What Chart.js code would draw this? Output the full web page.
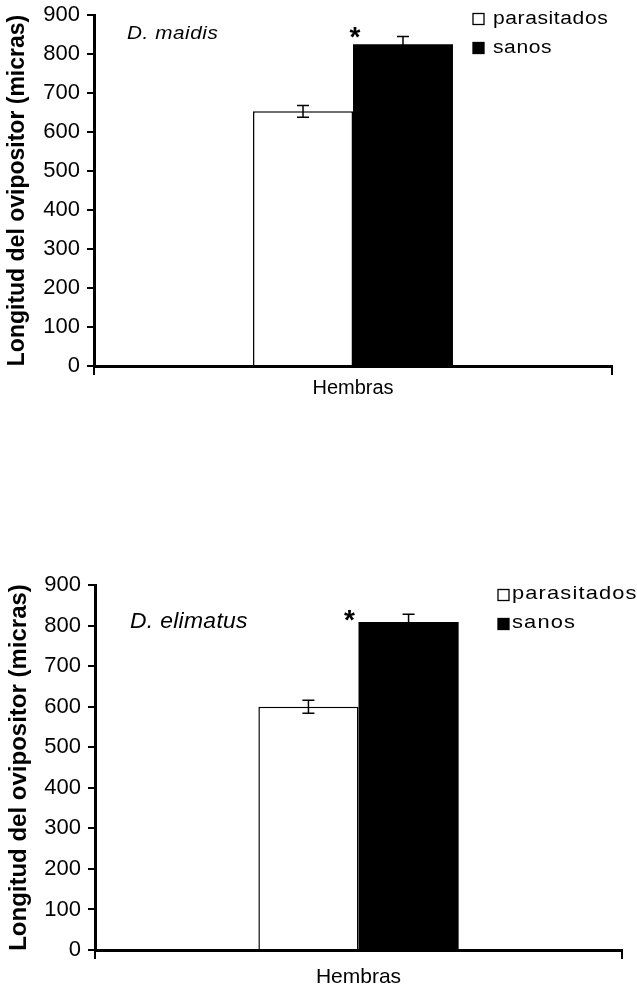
<!DOCTYPE html>
<html><head><meta charset="utf-8">
<script src="https://cdn.jsdelivr.net/npm/chart.js@4.4.1/dist/chart.umd.min.js"></script>
<style>
html,body{margin:0;padding:0;background:#fff;}
#wrap{position:relative;width:637px;height:987px;background:#fff;overflow:hidden;}
#c1{position:absolute;left:0;top:-10px;}
#c2{position:absolute;left:0;top:540px;}
</style></head><body>
<div id="wrap"><canvas id="c1" width="637" height="410"></canvas><canvas id="c2" width="637" height="447"></canvas></div>
<script>
// ---- data ----
const categories = ['Hembras'];
const seriesLabels = ['parasitados', 'sanos'];
const maidisParasitados = [653];
const maidisSanos = [825];
const maidisParasitadosErr = [15];
const maidisSanosErr = [20];
const elimatusParasitados = [600];
const elimatusSanos = [809];
const elimatusParasitadosErr = [16];
const elimatusSanosErr = [19];
const yTicks = [0, 100, 200, 300, 400, 500, 600, 700, 800, 900];
const yTitle = 'Longitud del ovipositor (micras)';
const speciesTop = 'D. maidis';
const speciesBottom = 'D. elimatus';
const signifMark = '*';

const FONT = '"Liberation Sans", Arial, Helvetica, sans-serif';

function stretchedText(ctx, text, x, y, sx, spacing) {
  ctx.save();
  try { ctx.letterSpacing = spacing + 'px'; } catch (e) {}
  ctx.translate(x, y);
  ctx.scale(sx, 1);
  ctx.fillText(text, 0, 0);
  ctx.restore();
}

const extras = {
  id: 'extras',
  afterDatasetsDraw(chart, args, opts) {
    const ctx = chart.ctx;
    const ys = chart.scales.y;
    const ca = chart.chartArea;
    ctx.save();
    // error bars
    chart.data.datasets.forEach((ds, i) => {
      const meta = chart.getDatasetMeta(i);
      meta.data.forEach((bar, j) => {
        const v = ds.data[j], e = ds.errors[j];
        const yTop = ys.getPixelForValue(v + e);
        const yBot = ys.getPixelForValue(v - e);
        ctx.strokeStyle = '#000';
        ctx.lineWidth = 1.5;
        ctx.beginPath();
        ctx.moveTo(bar.x, yTop); ctx.lineTo(bar.x, yBot);
        ctx.moveTo(bar.x - 6, yTop); ctx.lineTo(bar.x + 6, yTop);
        ctx.moveTo(bar.x - 6, yBot); ctx.lineTo(bar.x + 6, yBot);
        ctx.stroke();
      });
    });
    // significance star, relative to the "sanos" bar
    const sb = chart.getDatasetMeta(1).data[0];
    const sbLeft = sb.x - sb.width / 2;
    ctx.fillStyle = '#000';
    ctx.font = 'bold ' + opts.starSize + 'px ' + FONT;
    ctx.textAlign = 'center';
    ctx.textBaseline = 'alphabetic';
    ctx.fillText(signifMark, sbLeft + opts.starDx, sb.y + opts.starDy + opts.starSize * 0.45);
    // species label
    ctx.font = 'italic ' + opts.speciesSize + 'px ' + FONT;
    ctx.textAlign = 'left';
    ctx.textBaseline = 'middle';
    stretchedText(ctx, opts.species, ca.left + opts.speciesDx, ca.top + opts.speciesDy, opts.speciesScale, opts.speciesSpacing);
    // legend
    ctx.font = opts.legSize + 'px ' + FONT;
    chart.data.datasets.forEach((ds, i) => {
      const cy = ca.top + opts.legDy + i * opts.legGap;
      const sx = ca.left + opts.legDx;
      const sq = opts.legSq;
      ctx.fillStyle = ds.backgroundColor;
      ctx.fillRect(sx, cy - sq / 2 + opts.sqDy, sq, sq);
      ctx.strokeStyle = '#000';
      ctx.lineWidth = 1.3;
      ctx.strokeRect(sx, cy - sq / 2 + opts.sqDy, sq, sq);
      ctx.fillStyle = '#000';
      stretchedText(ctx, ds.label, sx + sq + opts.legTextGap, cy, opts.legScale, opts.legSpacing);
    });
    ctx.restore();
  }
};

function makeChart(id, parasit, sanos, pErr, sErr, cfg) {
  return new Chart(document.getElementById(id), {
    type: 'bar',
    data: {
      labels: categories,
      datasets: [
        { label: seriesLabels[0], data: parasit, errors: pErr, backgroundColor: '#ffffff',
          borderColor: '#000', borderWidth: 1.5, borderSkipped: 'bottom' },
        { label: seriesLabels[1], data: sanos, errors: sErr, backgroundColor: '#000000',
          borderColor: '#000', borderWidth: 0 }
      ]
    },
    options: {
      responsive: false,
      animation: false,
      devicePixelRatio: 1,
      layout: { padding: cfg.padding },
      datasets: { bar: { categoryPercentage: cfg.catPct, barPercentage: 1 } },
      plugins: {
        legend: { display: false },
        tooltip: { enabled: false },
        extras: cfg.extras
      },
      scales: {
        x: {
          offset: true,
          border: { display: true, color: '#000', width: 3 },
          grid: { offset: true, drawOnChartArea: false, drawTicks: true, tickLength: 9, color: '#000', lineWidth: 2 },
          ticks: { color: '#000', font: { family: FONT, size: cfg.xFont }, padding: cfg.xPad },
          afterFit: s => { s.height = cfg.xHeight; }
        },
        y: {
          min: 0, max: 900,
          afterBuildTicks: s => { s.ticks = yTicks.map(v => ({ value: v })); },
          border: { display: true, color: '#000', width: 3 },
          grid: { drawOnChartArea: false, drawTicks: true, tickLength: 7, color: '#000', lineWidth: 2 },
          ticks: { color: '#000', font: { family: FONT, size: 22 }, padding: 7 },
          title: { display: true, text: yTitle, color: '#000',
                   font: { family: FONT, size: cfg.titleSize, weight: 'bold' }, padding: { top: cfg.titlePad, bottom: 0 } },
          afterFit: s => { s.width = cfg.yWidth; }
        }
      }
    },
    plugins: [extras]
  });
}

makeChart('c1', maidisParasitados, maidisSanos, maidisParasitadosErr, maidisSanosErr, {
  padding: { top: 25, right: 25, bottom: 0, left: 0 },
  catPct: 0.386, xFont: 20, xPad: 1, xHeight: 34, yWidth: 94, titleSize: 23, titlePad: 4,
  extras: { starSize: 28, starDx: 2, starDy: -11, species: speciesTop, speciesSize: 18, speciesSpacing: 0.5, speciesScale: 1.15,
            speciesDx: 33, speciesDy: 19, legSize: 18, legSpacing: 0.5, legScale: 1.17, legDx: 379, legDy: 4, legGap: 29,
            legSq: 11, sqDy: 0, legTextGap: 9 }
});

makeChart('c2', elimatusParasitados, elimatusSanos, elimatusParasitadosErr, elimatusSanosErr, {
  padding: { top: 45, right: 15, bottom: 0, left: 0 },
  catPct: 0.38, xFont: 21, xPad: 6, xHeight: 37, yWidth: 95, titleSize: 24, titlePad: 5,
  extras: { starSize: 28, starDx: -9, starDy: -6, species: speciesBottom, speciesSize: 22, speciesSpacing: 0.3, speciesScale: 1.04,
            speciesDx: 35, speciesDy: 37, legSize: 19, legSpacing: 1, legScale: 1.15, legDx: 403, legDy: 9, legGap: 29,
            legSq: 11, sqDy: 1, legTextGap: 3 }
});
</script>
</body></html>
